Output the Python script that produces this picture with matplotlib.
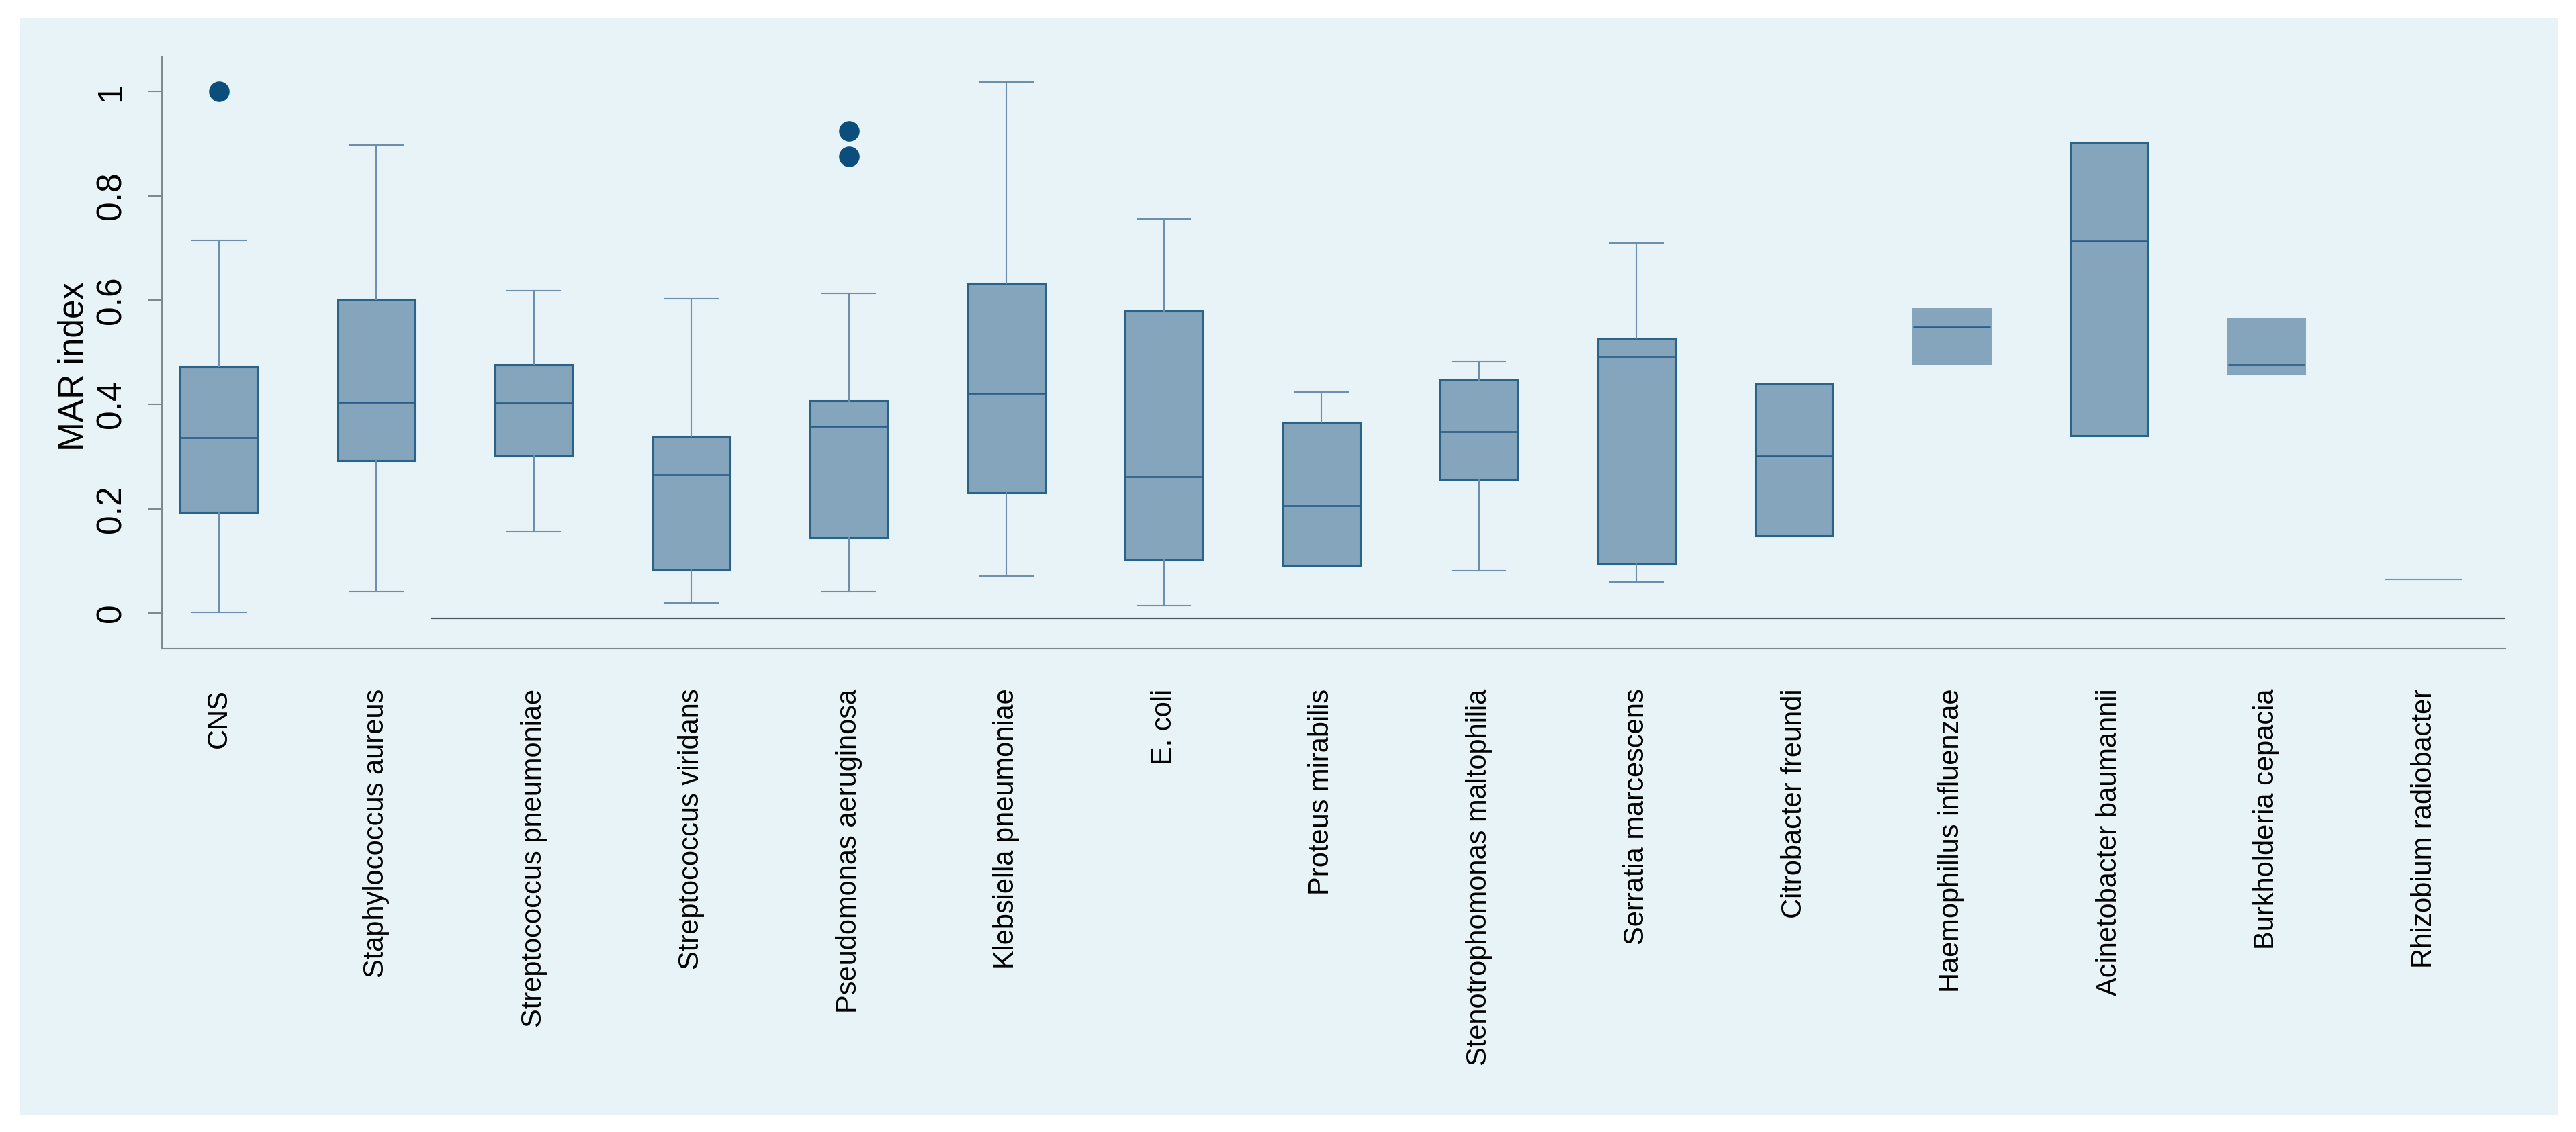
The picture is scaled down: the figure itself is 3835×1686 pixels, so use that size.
import matplotlib
matplotlib.use("Agg")
import matplotlib.pyplot as plt
from matplotlib.patches import Rectangle

categories = ["CNS", "Staphylococcus aureus", "Streptococcus pneumoniae",
              "Streptococcus viridans", "Pseudomonas aeruginosa",
              "Klebsiella pneumoniae", "E. coli", "Proteus mirabilis",
              "Stenotrophomonas maltophilia", "Serratia marcescens",
              "Citrobacter freundi", "Haemophillus influenzae",
              "Acinetobacter baumannii", "Burkholderia cepacia",
              "Rhizobium radiobacter"]
whislo = [0.002, 0.041, 0.156, 0.019, 0.042, 0.071, 0.015, 0.092, 0.081, 0.059,
          0.148, 0.479, 0.340, 0.458, 0.064]
q1 = [0.193, 0.292, 0.302, 0.083, 0.145, 0.231, 0.102, 0.092, 0.256, 0.094,
      0.148, 0.479, 0.340, 0.458, 0.064]
med = [0.336, 0.405, 0.403, 0.2655, 0.358, 0.421, 0.261, 0.206, 0.348, 0.492,
       0.301, 0.549, 0.713, 0.476, 0.064]
q3 = [0.473, 0.601, 0.477, 0.339, 0.4075, 0.632, 0.579, 0.366, 0.447, 0.527,
      0.439, 0.583, 0.9025, 0.564, 0.064]
whishi = [0.715, 0.897, 0.618, 0.602, 0.613, 1.019, 0.756, 0.424, 0.483, 0.709,
          0.439, 0.583, 0.9025, 0.564, 0.064]
outliers = [[1.0], [], [], [], [0.925, 0.875], [], [], [], [], [], [], [], [], [], []]
outlined = [True, True, True, True, True, True, True, True, True, True,
            True, False, True, False, False]
yticks = [0, 0.2, 0.4, 0.6, 0.8, 1.0]

plt.rcParams['font.family'] = ['Liberation Sans', 'DejaVu Sans']

W, H = 3835, 1686
fig = plt.figure(figsize=(W / 100, H / 100), dpi=100, facecolor='white')
bg = '#e8f3f8'
fig.patches.append(Rectangle((30 / W, 1 - 1661 / H), (3808 - 30) / W, (1661 - 27) / H,
                             transform=fig.transFigure, facecolor=bg, edgecolor='none',
                             zorder=-10))

ax = fig.add_axes([241 / W, 1 - 966 / H, (3730 - 241) / W, (966 - 85) / H])
ax.set_zorder(5)
ax.patch.set_alpha(0)

fill = '#84a5bb'
edge = '#2a6388'
whisk = '#6d8fae'
medc = '#2a5e88'
spine = '#7f8a8f'

stats = []
for i in range(len(categories)):
    stats.append(dict(label=categories[i], whislo=whislo[i], q1=q1[i], med=med[i],
                      q3=q3[i], whishi=whishi[i], fliers=outliers[i]))

pos = list(range(len(categories)))
res = ax.bxp(stats, positions=pos, widths=0.49, patch_artist=True,
             showfliers=True, capwidths=0.34,
             boxprops=dict(facecolor=fill, edgecolor=edge, linewidth=2.2),
             medianprops=dict(color=medc, linewidth=1.9),
             whiskerprops=dict(color=whisk, linewidth=1.5),
             capprops=dict(color=whisk, linewidth=1.5),
             flierprops=dict(marker='o', markersize=21, markerfacecolor='#0b4d7b',
                             markeredgecolor='#0b4d7b', linestyle='none'))

for i in range(len(categories)):
    if not outlined[i]:
        res['boxes'][i].set_edgecolor(fill)
    if q1[i] == q3[i]:
        res['boxes'][i].set_edgecolor('#7199b6')
        res['boxes'][i].set_linewidth(1.5)
        res['medians'][i].set_color('#7199b6')
        res['medians'][i].set_linewidth(1.5)
    if whislo[i] >= q1[i]:
        res['caps'][2 * i].set_visible(False)
        res['whiskers'][2 * i].set_visible(False)
    if whishi[i] <= q3[i]:
        res['caps'][2 * i + 1].set_visible(False)
        res['whiskers'][2 * i + 1].set_visible(False)

# baseline line drawn in the original
ax.hlines(-0.0095, 1.35, 14.518, color='#4f5b60', linewidth=1.6, zorder=1)

ax.set_xlim(-0.361, 14.518)
ax.set_ylim(-0.068, 1.066)

for s in ['top', 'right']:
    ax.spines[s].set_visible(False)
for s in ['left', 'bottom']:
    ax.spines[s].set_color(spine)
    ax.spines[s].set_linewidth(1.5)

ax.set_yticks(yticks)
ax.set_yticklabels([f"{v:g}" for v in yticks], rotation=90, va='center', fontsize=37)
ax.tick_params(axis='y', length=14.4, width=1.5, color=spine, pad=22)
ax.set_xticks(pos)
ax.set_xticklabels(categories, rotation=90, fontsize=30, va='top', ha='center')
ax.tick_params(axis='x', length=0, pad=43)

ax.set_ylabel("MAR index", fontsize=37)
ax.yaxis.set_label_coords((134 - 241) / (3730 - 241), 0.478)

fig.savefig("out.png", dpi=100, facecolor='white')
